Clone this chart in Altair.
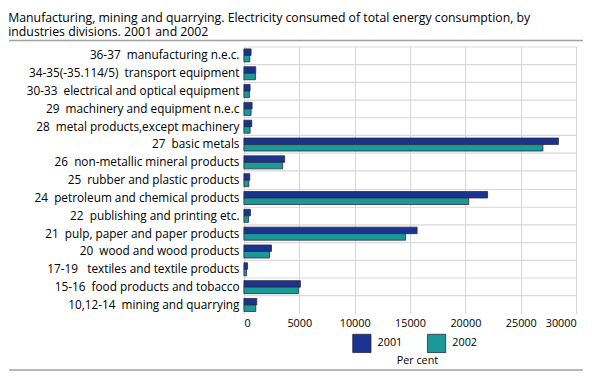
import altair as alt
import pandas as pd

categories = [
    "36-37\u00a0 manufacturing n.e.c.",
    "34-35(-35.114/5)\u00a0 transport equipment",
    "30-33\u00a0 electrical and optical equipment",
    "29\u00a0 machinery and equipment n.e.c",
    "28\u00a0 metal products,except machinery",
    "27\u00a0 basic metals",
    "26\u00a0 non-metallic mineral products",
    "25\u00a0 rubber and plastic products",
    "24\u00a0 petroleum and chemical products",
    "22\u00a0 publishing and printing etc.",
    "21\u00a0 pulp, paper and paper products",
    "20\u00a0 wood and wood products",
    "17-19\u00a0\u00a0 textiles and textile products",
    "15-16\u00a0 food products and tobacco",
    "10,12-14\u00a0 mining and quarrying",
]
values_2001 = [650, 1070, 560, 740, 710, 28400, 3680, 530, 22000, 590, 15640, 2490, 330, 5100, 1160]
values_2002 = [530, 1040, 500, 650, 560, 27000, 3500, 450, 20300, 420, 14600, 2310, 240, 4920, 1070]
years = ["2001", "2002"]
x_ticks = [0, 5000, 10000, 15000, 20000, 25000, 30000]

rows = []
for c, a, b in zip(categories, values_2001, values_2002):
    rows.append({"category": c, "year": years[0], "value": a})
    rows.append({"category": c, "year": years[1], "value": b})
df = pd.DataFrame(rows)

FONT = "Open Sans"
W, H = 338, 272

bars = alt.Chart(df).mark_bar(stroke="#2a2a3a", strokeWidth=0.8).encode(
    y=alt.Y("category:N", sort=categories,
            scale=alt.Scale(paddingInner=0, paddingOuter=0),
            axis=alt.Axis(title=None, grid=True, bandPosition=0, ticks=False, domain=False,
                          labelFont=FONT, labelFontSize=12, labelColor="#000000",
                          labelPadding=5, gridColor="#d9d9d9", gridWidth=1.2, labelLimit=300)),
    yOffset=alt.YOffset("year:N", scale=alt.Scale(paddingOuter=0.37, paddingInner=0)),
    x=alt.X("value:Q", scale=alt.Scale(domain=[0, 30000], nice=False),
            axis=alt.Axis(title="Per cent", values=x_ticks, format="d", ticks=False, domain=False,
                          labelFont=FONT, labelFontSize=11, labelColor="#000000", labelPadding=4,
                          gridColor="#d9d9d9", gridWidth=1.2,
                          titleFont=FONT, titleFontSize=11, titleFontWeight="normal", titleColor="#000000",
                          titleX=176, titleY=48, titleAlign="center", titleBaseline="middle")),
    color=alt.Color("year:N", scale=alt.Scale(domain=years, range=["#1a3391", "#1a9999"]),
                    legend=alt.Legend(title=None, orient="none", direction="horizontal",
                                      legendX=110, legendY=292, symbolType="square", symbolSize=345,
                                      symbolStrokeColor="#2a2a3a", symbolStrokeWidth=0.8,
                                      labelFont=FONT, labelFontSize=11, labelColor="#000000",
                                      labelOffset=6, columnPadding=23, padding=0)),
)

top_line = alt.Chart(pd.DataFrame({"k": [0]})).mark_rule(color="#a0a0a0", strokeWidth=1.5).encode(
    x=alt.value(-239), x2=alt.value(345), y=alt.value(-6))
bottom_line = alt.Chart(pd.DataFrame({"k": [0]})).mark_rule(color="#a0a0a0", strokeWidth=1.5).encode(
    x=alt.value(-239), x2=alt.value(345), y=alt.value(329))

chart = alt.layer(bars, top_line, bottom_line).properties(
    width=W, height=H,
    padding=0,
    title=alt.Title(
        "Manufacturing, mining and quarrying. Electricity consumed of total energy consumption, by",
        subtitle="industries divisions. 2001 and 2002",
        anchor="start", frame="bounds", font=FONT, fontSize=12.5, fontWeight="normal",
        color="#000000", subtitleFont=FONT, subtitleFontSize=12.5, subtitleFontWeight="normal",
        subtitleColor="#000000", subtitlePadding=2.5, offset=1),
).configure_view(stroke=None)

chart.save("out.html", embed_options={"renderer": "svg", "actions": False})
